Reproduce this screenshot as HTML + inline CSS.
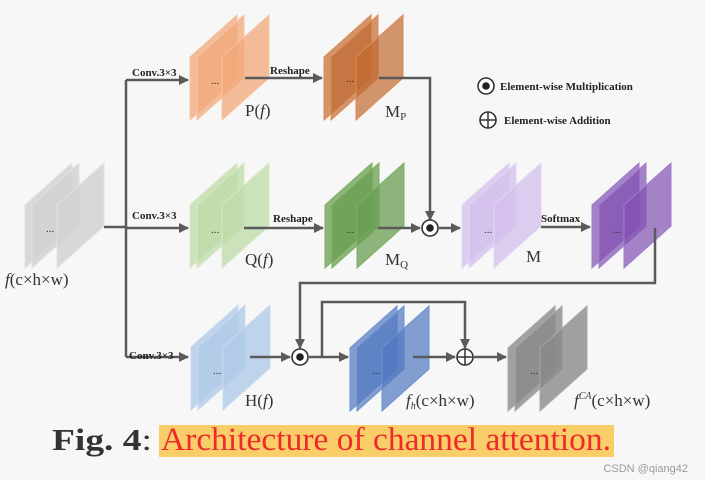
<!DOCTYPE html>
<html><head><meta charset="utf-8"><style>
html,body{margin:0;padding:0;background:#f7f7f7;}
svg{display:block}
.c{font-family:"Liberation Serif",serif;font-weight:bold;font-size:11px;fill:#222}
.l{font-family:"Liberation Serif",serif;font-size:17px;fill:#333}
</style></head><body>
<svg width="705" height="480" viewBox="0 0 705 480" xmlns="http://www.w3.org/2000/svg">
<defs>
<marker id="a" viewBox="0 0 10 10" refX="9" refY="5" markerWidth="4" markerHeight="4" orient="auto"><path d="M0,0L10,5L0,10z" fill="#5a5a5a"/></marker>
<g id="stk"><polygon points="0,0 47,-42 47,21 0,63"/><polygon points="7,0 54,-42 54,21 7,63"/><polygon points="32,0 79,-42 79,21 32,63"/></g>
</defs>
<rect width="705" height="480" fill="#f7f7f7"/>
<g fill="#d2d2d2" fill-opacity="0.85" stroke="#e2e2e2"><use href="#stk" x="25" y="205"/></g>
<g fill="#f2a87a" fill-opacity="0.75" stroke="#f6c4a2"><use href="#stk" x="190" y="57"/></g>
<g fill="#c06a30" fill-opacity="0.7" stroke="#e08a50"><use href="#stk" x="324" y="57"/></g>
<g fill="#bfdcaa" fill-opacity="0.8" stroke="#d4e8c6"><use href="#stk" x="190" y="205"/></g>
<g fill="#6a9e50" fill-opacity="0.75" stroke="#7cb060"><use href="#stk" x="325" y="205"/></g>
<g fill="#d5c0ec" fill-opacity="0.8" stroke="#e3d4f4"><use href="#stk" x="462" y="205"/></g>
<g fill="#8050b0" fill-opacity="0.7" stroke="#a07cd0"><use href="#stk" x="592" y="205"/></g>
<g fill="#b0cbe8" fill-opacity="0.8" stroke="#c8dcf0"><use href="#stk" x="191" y="347"/></g>
<g fill="#5078c0" fill-opacity="0.7" stroke="#6a90d0"><use href="#stk" x="350" y="348"/></g>
<g fill="#8a8a8a" fill-opacity="0.8" stroke="#a8a8a8"><use href="#stk" x="508" y="348"/></g>
<g font-family="Liberation Serif,serif" font-size="11" fill="#333">
<text x="46" y="232">...</text><text x="211" y="84">...</text><text x="346" y="82">...</text><text x="211" y="233">...</text><text x="346" y="233">...</text><text x="484" y="233">...</text><text x="613" y="233">...</text><text x="213" y="374">...</text><text x="372" y="374">...</text><text x="530" y="374">...</text>
</g>
<g stroke="#5a5a5a" stroke-width="2.5" fill="none">
<path d="M104,227H126"/>
<path d="M126,80V357"/>
<path d="M126,80H188" marker-end="url(#a)"/>
<path d="M126,228H188" marker-end="url(#a)"/>
<path d="M126,357H188" marker-end="url(#a)"/>
<path d="M245,78H322" marker-end="url(#a)"/>
<path d="M379,78H430V220" marker-end="url(#a)"/>
<path d="M244,228H323" marker-end="url(#a)"/>
<path d="M378,228H420" marker-end="url(#a)"/>
<path d="M439,228H460" marker-end="url(#a)"/>
<path d="M541,227H590" marker-end="url(#a)"/>
<path d="M655,228V283H300V348" marker-end="url(#a)"/>
<path d="M250,357H290" marker-end="url(#a)"/>
<path d="M309,357H348" marker-end="url(#a)"/>
<path d="M322,357V302H465V348" marker-end="url(#a)"/>
<path d="M413,357H455" marker-end="url(#a)"/>
<path d="M474,357H506" marker-end="url(#a)"/>
</g>
<g stroke="#333" stroke-width="1.6" fill="#fff">
<circle cx="430" cy="228" r="8"/><circle cx="300" cy="357" r="8"/><circle cx="486" cy="86" r="8"/>
<circle cx="465" cy="357" r="8"/><circle cx="488" cy="120" r="8"/>
</g>
<g fill="#222"><circle cx="430" cy="228" r="3.8"/><circle cx="300" cy="357" r="3.8"/><circle cx="486" cy="86" r="3.8"/></g>
<g stroke="#333" stroke-width="1.5"><path d="M457,357H473M465,349V365M480,120H496M488,112V128"/></g>
<text class="c" x="500" y="90">Element-wise Multiplication</text>
<text class="c" x="504" y="124">Element-wise Addition</text>
<text class="c" x="132" y="76">Conv.3×3</text>
<text class="c" x="132" y="219">Conv.3×3</text>
<text class="c" x="129" y="359">Conv.3×3</text>
<text class="c" x="270" y="74">Reshape</text>
<text class="c" x="273" y="222">Reshape</text>
<text class="c" x="541" y="222">Softmax</text>
<text class="l" x="5" y="285"><tspan font-style="italic">f</tspan>(c×h×w)</text>
<text class="l" x="245" y="116">P(<tspan font-style="italic">f</tspan>)</text>
<text class="l" x="385" y="117">M<tspan font-size="11" dy="3">P</tspan></text>
<text class="l" x="245" y="265">Q(<tspan font-style="italic">f</tspan>)</text>
<text class="l" x="385" y="265">M<tspan font-size="11" dy="3">Q</tspan></text>
<text class="l" x="526" y="262">M</text>
<text class="l" x="245" y="406">H(<tspan font-style="italic">f</tspan>)</text>
<text class="l" x="406" y="406" font-size="15"><tspan font-style="italic">f</tspan><tspan font-size="10" dy="3" font-style="italic">h</tspan><tspan dy="-3">(c×h×w)</tspan></text>
<text class="l" x="574" y="406" font-size="15"><tspan font-style="italic">f</tspan><tspan font-size="10" dy="-7" font-style="italic">CA</tspan><tspan dy="7">(c×h×w)</tspan></text>
<rect x="159" y="425" width="455" height="32" fill="#f9cd68"/>
<text x="52" y="450" font-family="Liberation Serif,serif" font-size="31" fill="#333" textLength="100" lengthAdjust="spacingAndGlyphs"><tspan font-weight="bold">Fig. 4</tspan>:</text>
<text x="161" y="450" font-family="Liberation Serif,serif" font-size="33" fill="#ee2a2a" textLength="450" lengthAdjust="spacingAndGlyphs">Architecture of channel attention.</text>
<text x="688" y="472" text-anchor="end" font-family="Liberation Sans,sans-serif" font-size="11" fill="#999">CSDN @qiang42</text>
</svg>
</body></html>
